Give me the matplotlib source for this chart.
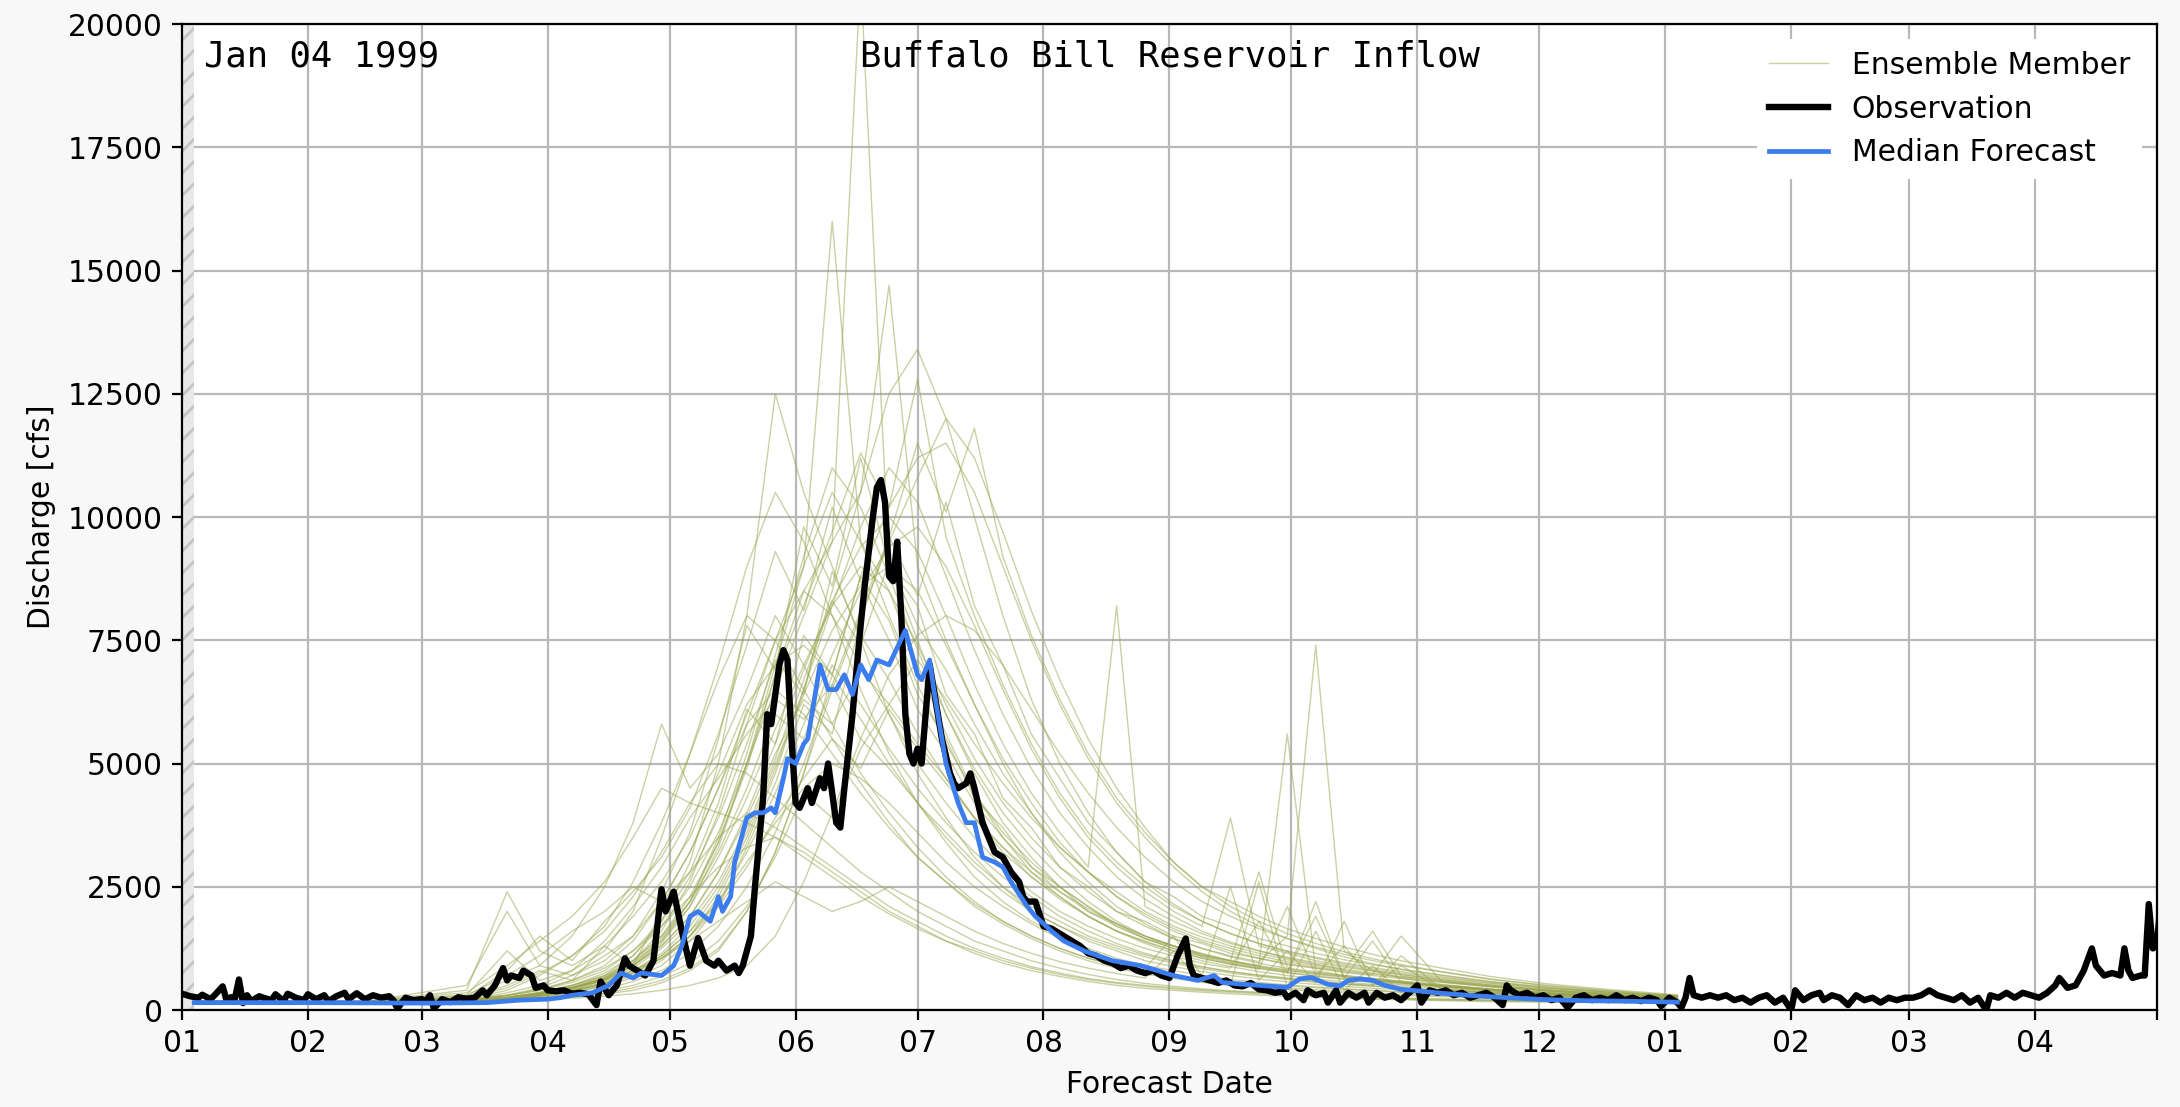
import numpy as np
import pandas as pd
import matplotlib
matplotlib.use("Agg")
import matplotlib.pyplot as plt

plt.rcParams["font.size"] = 10.7

# reference dates
start = pd.Timestamp("1999-01-01")
init_date = pd.Timestamp("1999-01-04")

# observed inflow (cfs), day offsets from 1 Jan 1999
obs_days = [0, 2, 4, 5, 7, 8, 10, 11, 12, 13, 14, 15, 16, 17, 19, 20, 22, 23, 25, 26,
            28, 30, 31, 33, 35, 36, 38, 40, 41, 43, 45, 47, 49, 51, 52, 53, 55, 57, 59, 60,
            61, 62, 64, 66, 68, 70, 72, 74, 75, 77, 79, 80, 81, 83, 84, 86, 87, 89, 90, 92,
            94, 96, 98, 100, 102, 103, 105, 107, 109, 110, 112, 114, 116, 118, 119, 121, 123, 125, 127, 129,
            131, 132, 134, 136, 137, 138, 140, 141, 143, 144, 145, 147, 148, 149, 150, 151, 152, 154, 155, 157,
            158, 159, 161, 162, 163, 165, 167, 168, 170, 171, 172, 173, 174, 175, 176, 177, 178, 179, 180, 181,
            182, 183, 184, 185, 187, 189, 190, 191, 193, 194, 195, 197, 199, 200, 202, 204, 206, 207, 208, 210,
            212, 214, 216, 217, 219, 221, 223, 225, 227, 229, 231, 233, 235, 237, 239, 241, 243, 245, 247, 248,
            249, 251, 253, 255, 257, 259, 261, 263, 265, 267, 269, 271, 272, 274, 276, 277, 279, 281, 282, 284,
            285, 287, 289, 291, 292, 294, 296, 298, 300, 302, 304, 305, 307, 309, 311, 313, 315, 317, 319, 321,
            323, 325, 326, 327, 329, 331, 333, 335, 337, 339, 341, 343, 345, 347, 349, 351, 353, 355, 357, 359,
            361, 363, 364, 366, 368, 369, 370, 371, 372, 374, 376, 378, 380, 382, 384, 386, 388, 390, 392, 394,
            396, 397, 399, 401, 403, 404, 406, 408, 410, 412, 414, 416, 418, 420, 422, 424, 426, 428, 430, 432,
            434, 436, 438, 440, 442, 444, 445, 447, 449, 451, 453, 455, 457, 459, 461, 462, 464, 466, 468, 470,
            471, 473, 475, 477, 478, 479, 480, 482, 483, 484, 485, 486, 487]
obs_cfs = [330, 280, 250, 310, 220, 300, 480, 180, 260, 230, 620, 140, 300, 180, 280, 250, 200, 320, 180, 330,
           250, 200, 320, 220, 300, 180, 280, 350, 220, 340, 220, 300, 250, 280, 200, 30, 250, 200, 220, 180,
           300, 30, 220, 160, 260, 230, 250, 400, 300, 500, 850, 600, 700, 650, 800, 700, 450, 500, 400, 380,
           400, 330, 350, 320, 100, 580, 300, 500, 1050, 900, 800, 700, 1000, 2450, 2000, 2400, 1600, 900, 1460, 1000,
           900, 1000, 800, 900, 750, 900, 1500, 2500, 4300, 6000, 5800, 7000, 7300, 7100, 5500, 4200, 4100, 4500, 4200, 4700,
           4500, 5000, 3800, 3700, 4500, 6000, 7800, 8600, 10000, 10600, 10750, 10300, 8800, 8700, 9500, 8000, 6000, 5200, 5000, 5300,
           5000, 6000, 7000, 6500, 5500, 4800, 4600, 4500, 4600, 4800, 4500, 3800, 3400, 3200, 3100, 2800, 2600, 2300, 2200, 2200,
           1700, 1650, 1550, 1500, 1400, 1300, 1150, 1100, 1000, 950, 850, 900, 800, 750, 800, 700, 650, 1100, 1450, 900,
           700, 650, 600, 550, 600, 500, 480, 550, 420, 400, 350, 380, 250, 350, 200, 400, 300, 350, 150, 400,
           150, 350, 250, 350, 150, 350, 250, 300, 200, 350, 500, 150, 400, 350, 400, 300, 350, 250, 300, 350,
           250, 100, 500, 400, 300, 350, 250, 300, 200, 250, 50, 250, 300, 200, 250, 200, 300, 200, 250, 180,
           250, 200, 80, 250, 150, 50, 250, 650, 300, 250, 300, 250, 300, 200, 250, 150, 250, 300, 150, 250,
           0, 400, 200, 300, 350, 200, 300, 250, 100, 300, 200, 250, 150, 250, 200, 250, 250, 300, 400, 300,
           250, 200, 300, 150, 250, 0, 300, 250, 350, 250, 350, 300, 250, 350, 500, 650, 450, 500, 800, 1250,
           900, 700, 750, 700, 1250, 800, 650, 700, 700, 2150, 1250, 1300, 2300]

# median forecast (cfs)
med_days = [3, 30, 60, 75, 83, 90, 93, 96, 101, 105, 108, 111, 113, 118, 121, 123, 125, 127, 130, 132,
            133, 135, 136, 139, 141, 143, 145, 146, 148, 149, 151, 153, 154, 157, 159, 161, 163, 165, 167, 169,
            171, 174, 178, 179, 181, 182, 184, 185, 188, 191, 193, 195, 197, 200, 202, 204, 208, 210, 214, 217,
            222, 229, 236, 244, 250, 254, 256, 260, 265, 270, 272, 275, 278, 282, 285, 287, 290, 293, 296, 300,
            304, 310, 318, 326, 336, 345, 355, 368]
med_cfs = [150, 150, 140, 150, 200, 220, 250, 300, 350, 500, 750, 650, 750, 700, 900, 1300, 1900, 2000, 1800, 2300,
           2000, 2300, 3000, 3900, 4000, 4000, 4100, 4000, 4700, 5100, 5000, 5400, 5500, 7000, 6500, 6500, 6800, 6400, 7000, 6700,
           7100, 7000, 7700, 7400, 6800, 6700, 7100, 6500, 5000, 4200, 3800, 3800, 3100, 3000, 2900, 2600, 2100, 1900, 1600, 1400,
           1200, 1000, 900, 700, 600, 700, 560, 530, 500, 470, 460, 630, 660, 520, 490, 600, 630, 600, 500, 420,
           390, 340, 290, 250, 210, 190, 180, 160]

# ensemble members share one day grid
ens_days = [3, 45, 70, 80, 88, 96, 104, 111, 118, 125, 132, 139, 146, 153, 160, 167, 174, 181, 188, 195,
            202, 209, 216, 223, 230, 237, 244, 251, 258, 265, 272, 279, 286, 293, 300, 310, 322, 336, 352, 368]
ens_members = [
    [180, 150, 200, 350, 500, 800, 1200, 2000, 3500, 5200, 7000, 9000, 10500, 9500, 8000, 6500, 5200, 4200, 3400, 2700, 2200, 1800, 1500, 1250, 1050, 900, 800, 700, 620, 560, 510, 470, 430, 400, 370, 330, 290, 250, 210, 180],
    [170, 160, 250, 600, 900, 1500, 2500, 3800, 5800, 4500, 5200, 6500, 8000, 7000, 5800, 4800, 4000, 3300, 2700, 2200, 1800, 1500, 1250, 1050, 900, 800, 700, 640, 580, 530, 490, 450, 420, 390, 360, 320, 280, 240, 200, 170],
    [160, 150, 180, 250, 350, 500, 700, 1100, 1800, 3000, 5000, 8000, 12500, 10500, 9000, 7500, 6000, 4800, 3900, 3100, 2500, 2000, 1700, 1400, 1200, 1000, 880, 780, 700, 630, 570, 520, 480, 440, 410, 360, 310, 260, 220, 190],
    [150, 140, 170, 220, 300, 450, 650, 1000, 1600, 2600, 4000, 5800, 7500, 9000, 16000, 9500, 8500, 7000, 5600, 4400, 3500, 2800, 2300, 1900, 1600, 1350, 1150, 1000, 880, 780, 700, 630, 570, 520, 480, 420, 360, 300, 250, 200],
    [170, 160, 200, 300, 400, 600, 900, 1400, 2200, 3200, 4500, 6000, 7500, 8500, 9500, 21000, 9000, 7500, 6000, 4800, 3800, 3100, 2500, 2100, 1700, 1450, 1250, 1080, 950, 850, 760, 680, 620, 560, 510, 450, 380, 320, 260, 210],
    [160, 150, 190, 260, 350, 500, 750, 1100, 1700, 2500, 3600, 5000, 6500, 8000, 9500, 10500, 14700, 9000, 7500, 6200, 5000, 4000, 3200, 2600, 2100, 1750, 1450, 1250, 1080, 950, 840, 750, 680, 620, 560, 490, 410, 340, 280, 220],
    [150, 140, 160, 200, 260, 350, 500, 700, 1000, 1500, 2300, 3400, 4800, 6500, 8500, 10500, 12500, 13400, 12000, 10000, 8000, 6300, 5000, 4000, 3200, 2600, 2150, 1800, 1550, 1350, 1180, 1050, 930, 830, 750, 650, 540, 440, 350, 270],
    [140, 130, 150, 170, 210, 260, 320, 400, 550, 800, 1200, 2000, 3200, 4800, 6800, 8800, 10200, 11200, 11500, 10500, 9000, 7500, 6200, 5100, 4200, 3500, 2900, 2400, 2000, 1700, 1450, 1250, 1080, 940, 820, 700, 570, 460, 360, 280],
    [180, 170, 220, 300, 420, 600, 850, 1200, 1700, 2300, 2900, 3300, 3500, 3200, 2800, 2400, 2000, 1700, 1400, 1150, 950, 800, 680, 580, 500, 440, 400, 360, 330, 300, 280, 260, 240, 220, 210, 190, 170, 160, 150, 140],
    [150, 140, 170, 230, 300, 400, 550, 800, 1100, 1600, 2200, 3000, 3800, 4500, 5000, 4700, 4200, 3600, 3000, 2500, 2100, 1750, 1450, 1200, 1000, 850, 1500, 700, 2500, 600, 1200, 550, 1800, 500, 900, 420, 350, 290, 240, 190],
    [180, 170, 400, 2400, 1200, 900, 1300, 1900, 2600, 3500, 4800, 6200, 7000, 7400, 6800, 5900, 5000, 4200, 3500, 2900, 2400, 2000, 1700, 1450, 1250, 1080, 950, 840, 750, 680, 620, 560, 520, 480, 440, 390, 330, 280, 230, 190],
    [160, 150, 180, 240, 330, 450, 650, 950, 1400, 2100, 3100, 4300, 5700, 7000, 8200, 9000, 8500, 7400, 6200, 5100, 4200, 3500, 2900, 2400, 2000, 1700, 1450, 1250, 1100, 980, 1500, 7400, 1200, 800, 650, 520, 420, 340, 270, 210],
    [150, 140, 170, 220, 300, 420, 600, 900, 1400, 2200, 3500, 5200, 7200, 9200, 11000, 10200, 8800, 7300, 6000, 4900, 4000, 3300, 2700, 2200, 1800, 1500, 1300, 1150, 1000, 900, 5600, 800, 700, 640, 580, 500, 420, 350, 280, 220],
    [170, 160, 190, 250, 340, 460, 640, 900, 1300, 1900, 2800, 4000, 5400, 6900, 8300, 9400, 10000, 9300, 8000, 6600, 5400, 4400, 3600, 2900, 8200, 2100, 1800, 1550, 1350, 1200, 1070, 960, 870, 790, 720, 620, 510, 410, 320, 240],
    [190, 180, 300, 700, 1100, 1600, 2000, 2500, 2200, 2800, 3500, 4000, 3700, 3300, 2900, 2500, 2100, 1800, 1500, 1250, 1050, 880, 750, 640, 560, 500, 450, 410, 380, 350, 320, 300, 280, 260, 240, 220, 200, 180, 160, 150],
    [150, 140, 160, 210, 280, 380, 520, 740, 1050, 1500, 2200, 3200, 4400, 5800, 7200, 8500, 9400, 9800, 9000, 7800, 6500, 5300, 4300, 3500, 2900, 2400, 2000, 1700, 3900, 1300, 1150, 1000, 900, 800, 720, 620, 510, 410, 330, 250],
    [170, 160, 220, 400, 700, 1100, 1700, 2600, 3800, 5200, 6700, 8000, 7500, 6500, 5500, 4600, 3800, 3100, 2600, 2100, 1750, 1450, 1200, 1000, 850, 730, 640, 570, 510, 460, 420, 380, 350, 320, 300, 270, 240, 210, 180, 160],
    [160, 150, 190, 260, 360, 500, 700, 1000, 1500, 2200, 3200, 4500, 6000, 5500, 7000, 6200, 5300, 4500, 3800, 3200, 2700, 2300, 1900, 1600, 1350, 1150, 1000, 880, 780, 700, 640, 580, 530, 490, 450, 400, 340, 290, 240, 190],
    [140, 130, 150, 180, 220, 270, 340, 450, 600, 850, 1250, 2000, 3200, 4800, 6500, 8000, 9500, 10800, 12000, 11200, 9700, 8100, 6700, 5500, 4500, 3700, 3000, 2500, 2100, 1800, 1550, 1350, 1180, 1040, 920, 780, 630, 500, 390, 290],
    [180, 170, 250, 450, 750, 1100, 1600, 2300, 3200, 4200, 5000, 4800, 4300, 3800, 3300, 2800, 2400, 2000, 1700, 1400, 1200, 1000, 850, 720, 620, 540, 480, 430, 390, 360, 330, 300, 280, 260, 240, 220, 200, 180, 160, 150],
    [160, 150, 180, 240, 320, 450, 650, 950, 1450, 2200, 3400, 5000, 6800, 8500, 8000, 7000, 6000, 5000, 4200, 3500, 2900, 2400, 2000, 1700, 1450, 1250, 1100, 950, 850, 1800, 750, 2200, 650, 1400, 560, 480, 400, 330, 260, 200],
    [150, 140, 170, 220, 290, 390, 540, 760, 1100, 1600, 2400, 3500, 4900, 6500, 8200, 9800, 11000, 10300, 8800, 7300, 6000, 4900, 4000, 3300, 2700, 2250, 1900, 1600, 1380, 1200, 1050, 930, 830, 750, 680, 590, 490, 400, 320, 250],
    [170, 160, 200, 260, 340, 450, 600, 800, 1050, 1400, 1800, 2200, 2600, 2300, 2000, 2200, 2500, 2200, 1900, 1600, 1350, 1150, 980, 850, 740, 650, 1200, 560, 500, 2600, 450, 1600, 400, 900, 350, 320, 280, 240, 200, 170],
    [180, 170, 500, 2000, 900, 700, 1000, 1500, 2200, 3200, 4500, 5800, 6500, 6000, 5200, 4400, 3700, 3100, 2600, 2150, 1800, 1500, 1250, 1050, 900, 780, 680, 600, 540, 490, 450, 410, 380, 350, 320, 290, 250, 220, 190, 160],
    [160, 150, 180, 230, 300, 400, 560, 800, 1150, 1700, 2500, 3600, 5000, 6400, 7700, 8600, 9000, 8500, 7400, 6200, 5100, 4200, 3400, 2800, 2300, 1900, 1600, 1380, 1200, 1050, 940, 850, 780, 720, 1500, 580, 480, 390, 310, 240],
    [140, 130, 150, 170, 200, 240, 280, 330, 400, 500, 650, 900, 1500, 2600, 4000, 5500, 6800, 7600, 8000, 7700, 7000, 6100, 5200, 4400, 3700, 3100, 2600, 2200, 1900, 1650, 1450, 1280, 1130, 1000, 900, 770, 620, 490, 380, 290],
    [150, 140, 180, 240, 320, 440, 620, 900, 1350, 2100, 3300, 5000, 7000, 9000, 10500, 9500, 8000, 6600, 5400, 4400, 3600, 3000, 2500, 2100, 1750, 1500, 1300, 1130, 1000, 900, 810, 740, 680, 620, 570, 500, 420, 350, 280, 220],
    [190, 180, 350, 900, 1400, 1900, 2600, 3500, 4500, 4200, 4000, 3800, 3500, 3100, 2700, 2300, 1950, 1650, 1400, 1200, 1000, 850, 720, 620, 540, 480, 430, 390, 360, 330, 300, 280, 260, 240, 220, 200, 190, 170, 160, 150],
    [160, 150, 200, 300, 450, 700, 1100, 1500, 2400, 3600, 5500, 7800, 6900, 9800, 8600, 11200, 9000, 8200, 6400, 5600, 4300, 3700, 2900, 2500, 2000, 1800, 1500, 1350, 1150, 1050, 920, 850, 760, 700, 640, 560, 470, 380, 300, 230],
    [170, 160, 230, 500, 800, 600, 1300, 900, 2000, 2800, 4200, 6100, 5400, 7600, 6800, 8800, 7900, 6400, 5500, 4300, 3700, 2900, 2500, 2000, 1750, 1450, 1300, 1100, 1000, 880, 800, 720, 660, 600, 560, 490, 410, 340, 270, 210],
    [150, 140, 170, 210, 280, 360, 480, 650, 900, 1400, 2100, 3300, 4600, 6200, 5600, 7900, 9600, 8400, 10300, 8200, 7000, 5600, 4700, 3800, 3200, 2600, 2300, 1900, 1700, 1450, 1300, 1150, 1020, 920, 830, 710, 580, 460, 360, 280],
    [160, 150, 180, 250, 330, 450, 620, 900, 1300, 1900, 2800, 3900, 5200, 6300, 5800, 6900, 6200, 5400, 4700, 3900, 3300, 2700, 2300, 1900, 1600, 1400, 1200, 1050, 930, 830, 2100, 700, 1300, 600, 550, 480, 400, 330, 260, 200],
    [170, 160, 260, 800, 1500, 1000, 1800, 2400, 3100, 4100, 5600, 7400, 9300, 8100, 10200, 8700, 7500, 6100, 5200, 4200, 3500, 2900, 2400, 2000, 1700, 1450, 1250, 1100, 970, 870, 780, 1900, 650, 600, 550, 480, 400, 330, 270, 210],
    [150, 140, 160, 200, 250, 320, 420, 580, 800, 1150, 1700, 2500, 3600, 5000, 6600, 8100, 9600, 11500, 10100, 11800, 9200, 7600, 6300, 5200, 4300, 3600, 3000, 2500, 2200, 1900, 1650, 1450, 1280, 1130, 1000, 850, 680, 530, 410, 310],
    [180, 170, 300, 1200, 600, 800, 1400, 2100, 2900, 3900, 4700, 5600, 6300, 5900, 6600, 5500, 4900, 4200, 3600, 3000, 2500, 2100, 1800, 1500, 1300, 1120, 980, 870, 780, 710, 650, 590, 540, 500, 1100, 420, 360, 300, 240, 190],
    [160, 150, 190, 250, 340, 470, 680, 1000, 1500, 2300, 3400, 4900, 6800, 8200, 9700, 11300, 10200, 12800, 9600, 8000, 6600, 5400, 4400, 3600, 3000, 2500, 2100, 1800, 1550, 1350, 1200, 1070, 960, 860, 780, 670, 550, 440, 350, 270],
    [150, 140, 170, 220, 290, 390, 530, 750, 1050, 1500, 2100, 2900, 3900, 4700, 5500, 4900, 6100, 5300, 4600, 3900, 3300, 2800, 2400, 2050, 1750, 1500, 1300, 1130, 1000, 2800, 850, 770, 700, 640, 590, 510, 430, 350, 280, 220],
    [170, 160, 210, 290, 400, 560, 800, 1200, 1800, 2700, 3900, 5400, 7100, 6400, 8900, 7600, 6700, 5600, 4700, 3900, 3200, 2700, 2250, 1900, 1600, 1380, 1200, 1050, 930, 840, 760, 690, 630, 580, 530, 470, 400, 330, 270, 210],
    [160, 150, 180, 240, 320, 430, 600, 850, 1250, 1800, 2600, 3700, 5100, 6700, 8300, 7400, 9100, 7800, 6900, 5800, 4800, 4000, 3300, 2800, 2300, 1950, 1650, 1420, 1250, 1100, 980, 880, 800, 730, 660, 570, 470, 380, 300, 230],
    [150, 140, 160, 190, 240, 300, 380, 500, 680, 950, 1400, 2100, 3100, 4400, 3900, 5300, 6200, 7100, 6300, 5400, 4600, 3900, 3300, 2800, 2400, 2000, 1700, 1480, 1300, 1150, 1020, 910, 820, 1600, 690, 590, 490, 400, 320, 250],
]

month_ticks = pd.date_range("1999-01-01", "2000-05-01", freq="MS")
tick_labels = ["01", "02", "03", "04", "05", "06", "07", "08", "09", "10", "11", "12",
               "01", "02", "03", "04", ""]


def to_dates(days):
    return start + pd.to_timedelta(np.asarray(days), unit="D")


fig, ax = plt.subplots(figsize=(10.9, 5.535), dpi=200)
fig.patch.set_facecolor("#f8f8f8")
fig.subplots_adjust(left=0.0835, right=0.9894, bottom=0.0876, top=0.9783)

# period before forecast issue
ax.axvspan(start, init_date, facecolor="#e8e8e8", edgecolor="#c4c4c4", hatch="///", lw=0, zorder=1)

ens_dates = to_dates(ens_days)
for i, m in enumerate(ens_members):
    ax.plot(ens_dates, m, color="#98a34b", lw=0.5, alpha=0.5, zorder=2,
            label="Ensemble Member" if i == 0 else None)

ax.plot(to_dates(obs_days), obs_cfs, color="black", lw=2.3, zorder=3, label="Observation")
ax.plot(to_dates(med_days), med_cfs, color="#3b7cee", lw=1.7, zorder=4, label="Median Forecast")

ax.set_xlim(start, pd.Timestamp("2000-05-01"))
ax.set_ylim(0, 20000)
ax.set_yticks(np.arange(0, 20001, 2500))
ax.set_xticks(month_ticks)
ax.set_xticklabels(tick_labels)
ax.grid(True, color="#b8b8b8", lw=0.8, zorder=0)
ax.set_axisbelow(True)

ax.set_xlabel("Forecast Date")
ax.set_ylabel("Discharge [cfs]")

ax.text(0.011, 0.984, init_date.strftime("%b %d %Y"), transform=ax.transAxes,
        family="DejaVu Sans Mono", fontsize=12.8, va="top", ha="left")
ax.text(0.5, 0.984, "Buffalo Bill Reservoir Inflow", transform=ax.transAxes,
        family="DejaVu Sans Mono", fontsize=12.8, va="top", ha="center")

leg = ax.legend(loc="upper right", framealpha=1.0, edgecolor="white", fancybox=False)
leg.get_frame().set_linewidth(0)

fig.savefig("out.png", dpi=200, facecolor=fig.get_facecolor())
